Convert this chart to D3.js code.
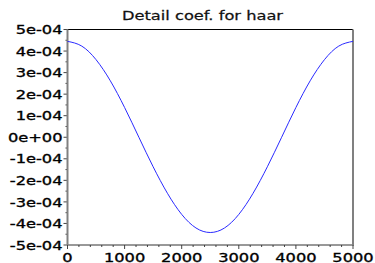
<!DOCTYPE html>
<html><head><meta charset="utf-8">
<script src="https://cdn.jsdelivr.net/npm/d3@7"></script>
<style>body{margin:0;background:#fff}svg{display:block}text{font-family:"DejaVu Sans",sans-serif}</style>
</head><body>
<script>
const title = "Detail coef. for haar";
const xValues = [0,250,500,750,1000,1250,1500,1750,2000,2250,2500,2750,3000,3250,3500,3750,4000,4250,4500,4750,5000];
const yValues = [4.45e-4,4.23e-4,3.60e-4,2.62e-4,1.38e-4,0.0,-1.37e-4,-2.60e-4,-3.58e-4,-4.21e-4,-4.42e-4,-4.21e-4,-3.58e-4,-2.60e-4,-1.37e-4,0.0,1.38e-4,2.62e-4,3.60e-4,4.23e-4,4.45e-4];
const xTicks = [0,1000,2000,3000,4000,5000];
const yTicks = [-5e-4,-4e-4,-3e-4,-2e-4,-1e-4,0,1e-4,2e-4,3e-4,4e-4,5e-4];
const yTickLabels = ["-5e-04","-4e-04","-3e-04","-2e-04","-1e-04","0e+00","1e-04","2e-04","3e-04","4e-04","5e-04"];

const W=375,H=263, L=67.5, R=353, T=29.5, B=245, SX=1.25;
const svg=d3.select("body").append("svg").attr("width",W).attr("height",H);
const x=d3.scaleLinear().domain([0,5000]).range([L,R]);
const y=d3.scaleLinear().domain([-5e-4,5e-4]).range([B,T]);

// minor ticks
const xMinor=d3.range(0,5001,200).filter(v=>v%1000!==0);
const yMinor=d3.range(-4.5e-4,5e-4,1e-4);
svg.selectAll(".xm").data(xMinor).join("line").attr("x1",d=>x(d)).attr("x2",d=>x(d)).attr("y1",B).attr("y2",B+2).attr("stroke","#444");
svg.selectAll(".xM").data(xTicks).join("line").attr("x1",d=>x(d)).attr("x2",d=>x(d)).attr("y1",B).attr("y2",B+4).attr("stroke","#444");
svg.selectAll(".ym").data(yMinor).join("line").attr("x1",L-2).attr("x2",L).attr("y1",d=>y(d)).attr("y2",d=>y(d)).attr("stroke","#444");
svg.selectAll(".yM").data(yTicks).join("line").attr("x1",L-4).attr("x2",L).attr("y1",d=>y(d)).attr("y2",d=>y(d)).attr("stroke","#444");

// frame
svg.append("line").attr("x1",L).attr("x2",R).attr("y1",T).attr("y2",T).attr("stroke","#000").attr("stroke-width",1);
svg.append("line").attr("x1",L).attr("x2",R+1).attr("y1",B).attr("y2",B).attr("stroke","#333").attr("stroke-width",1);
svg.append("line").attr("x1",L).attr("x2",L).attr("y1",T).attr("y2",B).attr("stroke","#808080").attr("stroke-width",2);
svg.append("line").attr("x1",R).attr("x2",R).attr("y1",T).attr("y2",B).attr("stroke","#808080").attr("stroke-width",2);

// curve
const pts=xValues.map((v,i)=>[v,yValues[i]]);
svg.append("path").attr("d",d3.line().x(d=>x(d[0])).y(d=>y(d[1])).curve(d3.curveNatural)(pts))
  .attr("fill","none").attr("stroke","#2a2aff").attr("stroke-width",1);

// labels
svg.selectAll(".yl").data(yTicks).join("text")
  .attr("transform",d=>`translate(${L-5},${y(d)+4.6}) scale(${SX},1)`)
  .attr("text-anchor","end").attr("font-size",13).attr("fill","#000")
  .attr("stroke","#000").attr("stroke-width",0.35)
  .text((d,i)=>yTickLabels[i]);
svg.selectAll(".xl").data(xTicks).join("text")
  .attr("transform",d=>`translate(${x(d)},261.8) scale(${SX},1)`)
  .attr("text-anchor","middle").attr("font-size",13).attr("fill","#000")
  .attr("stroke","#000").attr("stroke-width",0.35)
  .text(d=>d);
svg.append("text").attr("transform",`translate(202.5,19.5) scale(${SX},1)`)
  .attr("text-anchor","middle").attr("font-size",13).attr("fill","#111")
  .attr("stroke","#111").attr("stroke-width",0.25).text(title);
</script>
</body></html>
